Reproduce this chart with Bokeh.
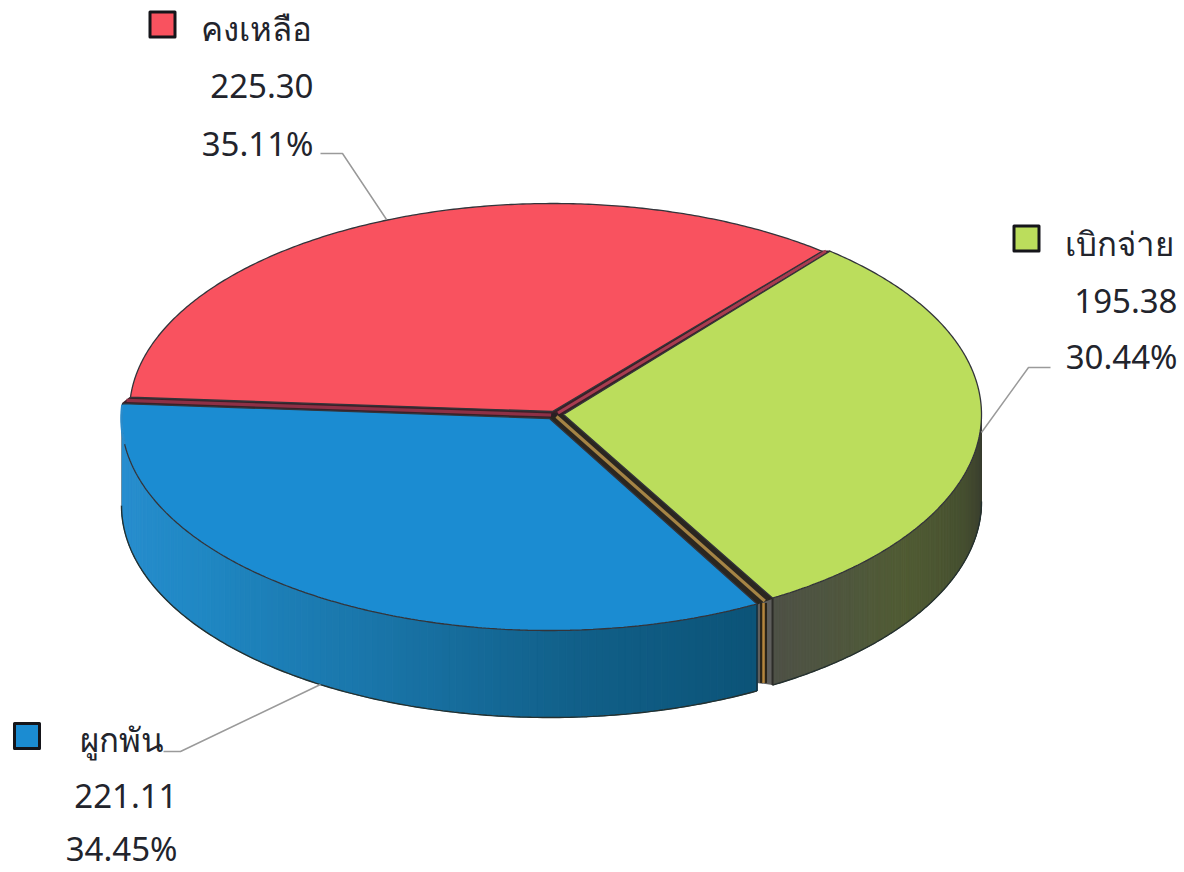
import numpy as np
from bokeh.plotting import figure
from bokeh.embed import file_html
from bokeh.resources import INLINE
from bokeh.core.properties import value

categories = ["เบิกจ่าย", "ผูกพัน", "คงเหลือ"]
amounts = [195.38, 221.11, 225.30]
percents = [30.44, 34.45, 35.11]

START = 50.4
DEPTH = 87
CENTERS = {"เบิกจ่าย": (563, 414, 418, 212), "ผูกพัน": (549, 418, 428, 212), "คงเหลือ": (552, 411, 423, 208)}
TRIM = {"เบิกจ่าย": (0, -0.8), "ผูกพัน": (-1.8, -0.8), "คงเหลือ": (-0.7, 0)}
TOPS = {"เบิกจ่าย": "#BBDD5C", "ผูกพัน": "#1B8CD2", "คงเหลือ": "#F9525F"}
FONT = value("Noto Sans")

total = sum(amounts)
spans = [a / total * 360 for a in amounts]
edges = [START]
for s in spans:
    edges.append(edges[-1] - s)
ANG = {c: (edges[i] + TRIM[c][0], edges[i + 1] + TRIM[c][1]) for i, c in enumerate(categories)}


def arc(c, a0, a1, n=160):
    cx, cy, rx, ry = CENTERS[c]
    t = np.radians(np.linspace(a0, a1, n))
    return cx + rx * np.cos(t), cy - ry * np.sin(t)


def point(c, a):
    cx, cy, rx, ry = CENTERS[c]
    t = np.radians(a)
    return cx + rx * np.cos(t), cy - ry * np.sin(t)


def ramp(stops, f):
    xs = [s[0] for s in stops]
    rgb = [np.interp(f, xs, [int(s[1][i:i + 2], 16) for s in stops]) for i in (1, 3, 5)]
    return "#%02x%02x%02x" % tuple(int(v) for v in rgb)


p = figure(width=1184, height=872, x_range=(0, 1184), y_range=(872, 0),
           toolbar_location=None, output_backend="svg", min_border=0,
           outline_line_color=None, background_fill_color="white")
p.axis.visible = False
p.grid.visible = False


def side(c, a0, a1, stops, n=120):
    ts = np.linspace(a0, a1, n + 1)
    xs, ys, cols = [], [], []
    for i in range(n):
        x, y = arc(c, ts[i], ts[i + 1], 4)
        xs.append(list(x) + list(x[::-1]))
        ys.append(list(y) + list((y + DEPTH)[::-1]))
        cols.append(ramp(stops, i / (n - 1)))
    p.patches(xs, ys, fill_color=cols, line_color=cols, line_width=1)
    x, y = arc(c, a0, a1)
    p.line(x, y + DEPTH, line_color="#24302f", line_width=1.4)


g0, g1 = ANG["เบิกจ่าย"]
b0, b1 = ANG["ผูกพัน"]
r0, r1 = ANG["คงเหลือ"]

# sides
side("เบิกจ่าย", 0, g1, [(0, "#38392F"), (0.3, "#465030"), (0.6, "#515C34"), (0.85, "#4F5640"), (1, "#4E5146")])
side("ผูกพัน", b0, -180, [(0, "#0C5478"), (0.2, "#115F88"), (0.45, "#1A76AA"), (0.7, "#2088C4"), (1, "#2A90D2")])

# the cut between the two front slices
gx, gy = point("เบิกจ่าย", g1)
bx, by = point("ผูกพัน", b0)
p.patch([bx, gx, gx, bx], [by, gy, gy + DEPTH, by + DEPTH - 8], fill_color="#5E5E5C", line_color=None)
p.line([bx + 6.5] * 2, [by - 1, by + DEPTH - 8], line_color="#2A2418", line_width=7)
p.line([bx + 6.5] * 2, [by - 1, by + DEPTH - 8], line_color="#B5863E", line_width=2.5)
p.line([gx] * 2, [gy, gy + DEPTH], line_color="#2C2C28", line_width=2)
p.line([bx] * 2, [by, by + DEPTH], line_color="#13303F", line_width=1.6)
lx, ly = point("ผูกพัน", -180)
p.line([lx] * 2, [ly, ly + DEPTH], line_color="#6C8FA6", line_width=1)


# separators: the gap between neighbouring slice edges
def gap(c1, a1, c2, a2, dark, mid):
    ax1, ay1 = CENTERS[c1][:2]
    ax2, ay2 = CENTERS[c2][:2]
    x1, y1 = point(c1, a1)
    x2, y2 = point(c2, a2)
    p.patch([ax1, x1, x2, ax2], [ay1, y1, y2, ay2], fill_color=dark, line_color=dark, line_width=1.5)
    p.line([(ax1 + ax2) / 2, (x1 + x2) / 2], [(ay1 + ay2) / 2, (y1 + y2) / 2], line_color=mid, line_width=3.2)


# close the small hole where the three apexes meet
apex = [CENTERS[c][:2] for c in categories]
p.patch([a[0] for a in apex], [a[1] for a in apex], fill_color="#2A2024", line_color="#2A2024", line_width=1.5)

gap("คงเหลือ", r1, "เบิกจ่าย", g0, "#3A2028", "#A83C50")
gap("คงเหลือ", r0, "ผูกพัน", b1, "#3A2028", "#8E3046")
gap("ผูกพัน", b0, "เบิกจ่าย", g1, "#2A2620", "#A58445")

# tops
for c in categories:
    a0, a1 = ANG[c]
    cx, cy = CENTERS[c][:2]
    x, y = arc(c, a0, a1, 240)
    p.patch(list(x) + [cx], list(y) + [cy], fill_color=TOPS[c], line_color="#33343A", line_width=1.3)

# the blue top's outer edge fades into the blue side at the far left
x, y = arc("ผูกพัน", b1 + 0.3, b1 + 11, 12)
p.line(x, y, line_color="#2A8CCC", line_width=2.5)

# leader lines
for lxs, lys in [([320, 342, 386], [153, 153, 219]),
                 ([1050, 1028, 981], [367, 367, 432]),
                 ([163, 180, 320], [751, 751, 684])]:
    p.line(lxs, lys, line_color="#9A9A9A", line_width=1.5)

# labels
LAB = {
    "คงเหลือ": dict(box=(162, 24), head=(200, 28), right=313, ys=(85, 143)),
    "เบิกจ่าย": dict(box=(1026, 238), head=(1064, 243), right=1177, ys=(300, 356)),
    "ผูกพัน": dict(box=(26.5, 735.5), head=(79, 739), right=177, ys=(795, 848)),
}
for c, a, pc in zip(categories, amounts, percents):
    L = LAB[c]
    p.rect([L["box"][0]], [L["box"][1]], width=25, height=25, fill_color=TOPS[c],
           line_color="#15151a", line_width=3, line_join="round")
    p.text([L["head"][0]], [L["head"][1]], text=[c], text_font=FONT, text_font_size="33px",
           text_align="left", text_baseline="middle", text_color="#22242c")
    p.text([L["right"]] * 2, list(L["ys"]), text=[f"{a:.2f}", f"{pc:.2f}%"], text_font=FONT,
           text_font_size="33px", text_align="right", text_baseline="middle", text_color="#22242c")

open("out.html", "w").write(file_html(p, INLINE))
